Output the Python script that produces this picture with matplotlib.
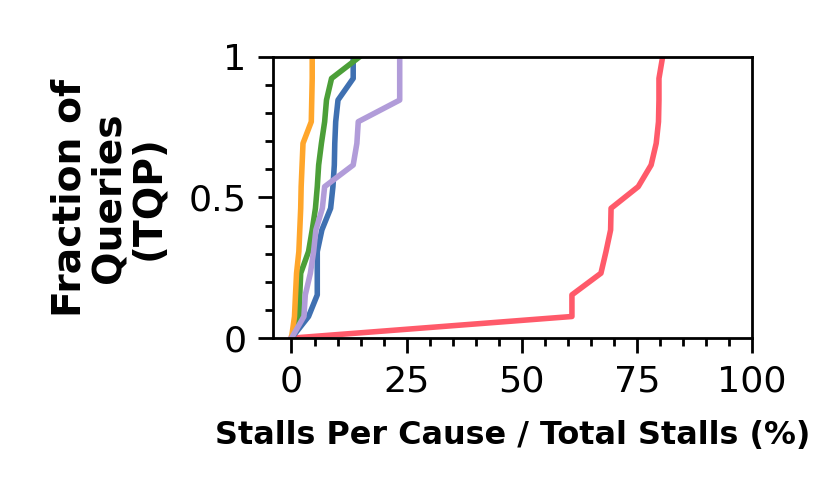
import matplotlib
matplotlib.use("Agg")
import matplotlib.pyplot as plt
from matplotlib.ticker import MultipleLocator

# fraction of queries: 14 points of the CDF (k / 13)
frac = [k / 13 for k in range(14)]

# stalls per cause / total stalls (%), one list per cause
red_vals = [0, 60.9, 60.9, 67.2, 68.3, 69.3, 69.4, 75.3, 78.1, 79.2, 79.7, 79.8, 79.8, 80.6]
blue_vals = [0, 3.7, 5.6, 5.6, 5.6, 6.6, 8.5, 9.0, 9.3, 9.4, 9.6, 10.1, 13.4, 13.4]
green_vals = [0, 1.7, 1.8, 2.0, 3.7, 4.5, 5.2, 5.6, 5.9, 6.5, 7.2, 7.6, 8.7, 14.8]
orange_vals = [0, 0.65, 0.87, 1.1, 1.6, 1.8, 2.0, 2.1, 2.3, 2.5, 4.3, 4.4, 4.5, 4.5]
purple_vals = [0, 2.7, 3.0, 4.1, 4.8, 5.3, 6.7, 7.2, 13.4, 14.2, 14.5, 23.5, 23.5, 23.5]

xticks = [0, 25, 50, 75, 100]
yticks = [0, 0.5, 1]
ytick_labels = ["0", "0.5", "1"]

fig = plt.figure(figsize=(3.32, 1.992), dpi=250)
ax = fig.add_axes([0.329, 0.321, 0.577, 0.565])

lw = 1.6
ax.plot(red_vals, frac, color="#ff5a6a", lw=lw)
ax.plot(blue_vals, frac, color="#3f70b1", lw=lw)
ax.plot(green_vals, frac, color="#4c9f38", lw=lw)
ax.plot(orange_vals, frac, color="#ffa62b", lw=lw)
ax.plot(purple_vals, frac, color="#b19cd9", lw=lw)

ax.set_xlim(-4, 100)
ax.set_ylim(0, 1)
ax.set_xticks(xticks)
ax.set_xticklabels([str(t) for t in xticks])
ax.set_yticks(yticks)
ax.set_yticklabels(ytick_labels)
ax.xaxis.set_minor_locator(MultipleLocator(5))
ax.yaxis.set_minor_locator(MultipleLocator(0.1))
ax.tick_params(which="major", length=4.2, width=0.8, labelsize=10.5, pad=3.5)
ax.tick_params(which="minor", length=2.3, width=0.8)

for s in ax.spines.values():
    s.set_linewidth(0.8)

ax.set_xlabel("Stalls Per Cause / Total Stalls (%)", fontsize=9.2,
              fontweight="bold", labelpad=6)
ax.set_ylabel("Fraction of\nQueries\n(TQP)", fontsize=11.3, fontweight="bold",
              labelpad=6, linespacing=1.05)

fig.savefig("out.png", dpi=250)
